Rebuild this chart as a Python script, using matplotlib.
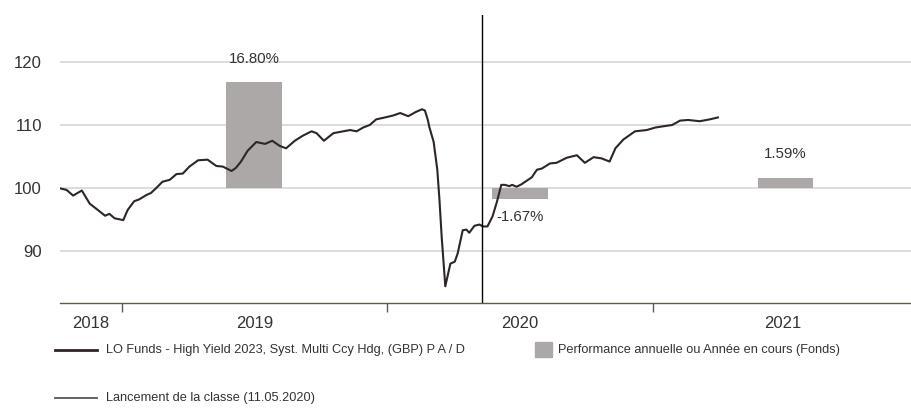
import numpy as np
import pandas as pd
import matplotlib; matplotlib.use("Agg")
import matplotlib.pyplot as plt
from matplotlib.lines import Line2D
from matplotlib.patches import Rectangle

plt.rcParams["font.family"] = ["Liberation Sans Narrow", "Liberation Sans", "DejaVu Sans"]

# ─── Data ───
dates = [
    "2018-10-08", "2018-10-17", "2018-10-26", "2018-11-07", "2018-11-18", "2018-11-27",
    "2018-12-09", "2018-12-15", "2018-12-22", "2019-01-03", "2019-01-09", "2019-01-18",
    "2019-01-25", "2019-02-04", "2019-02-10", "2019-02-17", "2019-02-26", "2019-03-08",
    "2019-03-17", "2019-03-26", "2019-04-04", "2019-04-16", "2019-04-29", "2019-05-11",
    "2019-05-20", "2019-06-01", "2019-06-07", "2019-06-14", "2019-06-23", "2019-07-05",
    "2019-07-17", "2019-07-27", "2019-08-06", "2019-08-15", "2019-08-27", "2019-09-07",
    "2019-09-19", "2019-09-26", "2019-10-06", "2019-10-19", "2019-10-28", "2019-11-11",
    "2019-11-20", "2019-11-29", "2019-12-08", "2019-12-17", "2019-12-29", "2020-01-09",
    "2020-01-19", "2020-01-30", "2020-02-10", "2020-02-18", "2020-02-22", "2020-02-26",
    "2020-02-28", "2020-03-05", "2020-03-10", "2020-03-13", "2020-03-16", "2020-03-21",
    "2020-03-28", "2020-04-03", "2020-04-07", "2020-04-14", "2020-04-19", "2020-04-23",
    "2020-04-30", "2020-05-07", "2020-05-12", "2020-05-18", "2020-05-25", "2020-05-31",
    "2020-06-06", "2020-06-11", "2020-06-17", "2020-06-21", "2020-06-27", "2020-07-04",
    "2020-07-09", "2020-07-18", "2020-07-25", "2020-08-01", "2020-08-12", "2020-08-21",
    "2020-09-04", "2020-09-18", "2020-09-29", "2020-10-11", "2020-10-22", "2020-11-02",
    "2020-11-10", "2020-11-21", "2020-12-07", "2020-12-23", "2021-01-04", "2021-01-15",
    "2021-01-27", "2021-02-07", "2021-02-18", "2021-03-06", "2021-03-20", "2021-03-31",
]
values = [
    99.95, 99.7, 98.8, 99.6, 97.5, 96.7,
    95.6, 95.9, 95.2, 94.9, 96.5, 97.9,
    98.2, 98.9, 99.2, 99.95, 101.0, 101.3,
    102.2, 102.3, 103.4, 104.4, 104.5, 103.5,
    103.4, 102.7, 103.2, 104.2, 105.9, 107.3,
    107.0, 107.5, 106.7, 106.3, 107.5, 108.3,
    109.0, 108.7, 107.5, 108.7, 108.9, 109.2,
    109.0, 109.6, 110.0, 110.9, 111.2, 111.5,
    111.9, 111.4, 112.1, 112.5, 112.3, 110.8,
    109.7, 107.3, 102.9, 98.1, 92.3, 84.4,
    88.0, 88.3, 89.6, 93.3, 93.4, 92.9,
    94.0, 94.2, 93.9, 93.9, 95.5, 97.8,
    100.5, 100.5, 100.3, 100.5, 100.2, 100.6,
    101.0, 101.7, 102.9, 103.1, 103.9, 104.0,
    104.8, 105.2, 104.0, 104.9, 104.7, 104.2,
    106.3, 107.7, 109.0, 109.2, 109.6, 109.8,
    110.0, 110.7, 110.8, 110.6, 110.9, 111.2,
]
years = [2018, 2019, 2020, 2021]
perf_years = [2019, 2020, 2021]
perf_values = [16.80, -1.67, 1.59]
perf_labels = ["16.80%", "-1.67%", "1.59%"]
launch_date = "2020-05-11"

series_label = "LO Funds - High Yield 2023, Syst. Multi Ccy Hdg, (GBP) P A / D"
perf_legend = "Performance annuelle ou Année en cours (Fonds)"
launch_legend = "Lancement de la classe (11.05.2020)"

LINE_COLOR = "#2e2527"
BAR_COLOR = "#aca8a7"
TEXT_COLOR = "#333333"
AXIS_COLOR = "#5c5c4c"

x = pd.to_datetime(dates)
x_min = pd.Timestamp("2018-10-08")
x_max = pd.Timestamp("2021-12-23")

fig = plt.figure(figsize=(9.12, 4.08), dpi=100)
ax = fig.add_axes([60 / 912, 1 - 303 / 408, 1 - 60 / 912, (303 - 15) / 408])

# grid
for v in [90, 100, 110, 120]:
    ax.axhline(v, color="#d2d2d2", lw=1.1, zorder=0)

# annual performance bars, centred mid-year
bar_x = [pd.Timestamp(f"{y}-07-02") for y in perf_years]
ax.bar(bar_x, perf_values, width=77, bottom=100, color=BAR_COLOR, zorder=1)
for bx, v, lab in zip(bar_x, perf_values, perf_labels):
    off = 17 if v > 0 else -13
    ax.annotate(lab, (bx, 100 + v), xytext=(0, off), textcoords="offset points",
                ha="center", va="center", fontsize=10.8, color=TEXT_COLOR)

ax.plot(x, values, color=LINE_COLOR, lw=1.5, zorder=3)
ax.axvline(pd.Timestamp(launch_date), color="black", lw=1.0, zorder=4)

ax.set_xlim(x_min, x_max)
ax.set_ylim(81.75, 127.46)

# axes styling
for s in ["top", "right", "left"]:
    ax.spines[s].set_visible(False)
ax.spines["bottom"].set_color(AXIS_COLOR)
ax.spines["bottom"].set_linewidth(1.0)

ax.set_yticks([90, 100, 110, 120])
ax.tick_params(axis="y", length=0, pad=13, labelsize=12, labelcolor=TEXT_COLOR)

year_starts = [pd.Timestamp(f"{y}-01-01") for y in years[1:]]
ax.set_xticks(year_starts)
ax.set_xticklabels([])
ax.tick_params(axis="x", which="major", length=6.5, width=1.0, color=AXIS_COLOR)

mids = []
for y in years:
    a = max(pd.Timestamp(f"{y}-01-01"), x_min)
    b = min(pd.Timestamp(f"{y + 1}-01-01"), x_max)
    mids.append(a + (b - a) / 2)
ax.set_xticks(mids, minor=True)
ax.set_xticklabels([str(y) for y in years], minor=True)
ax.tick_params(axis="x", which="minor", length=0, pad=9, labelsize=12, labelcolor=TEXT_COLOR)

# ─── Legend (drawn by hand) ───
def fx(px):
    return px / 912

def fy(py):
    return 1 - py / 408

fig.add_artist(Line2D([fx(55), fx(97)], [fy(350), fy(350)], color=LINE_COLOR, lw=2.0))
fig.text(fx(106), fy(350), series_label, fontsize=9.2, color=TEXT_COLOR, va="center")
fig.add_artist(Rectangle((fx(535), fy(357)), fx(17), 15 / 408, color=BAR_COLOR))
fig.text(fx(558), fy(350), perf_legend, fontsize=9.2, color=TEXT_COLOR, va="center")
fig.add_artist(Line2D([fx(55), fx(97)], [fy(398), fy(398)], color="#555555", lw=1.3))
fig.text(fx(106), fy(398), launch_legend, fontsize=9.2, color=TEXT_COLOR, va="center")

fig.savefig("out.png", dpi=100)
